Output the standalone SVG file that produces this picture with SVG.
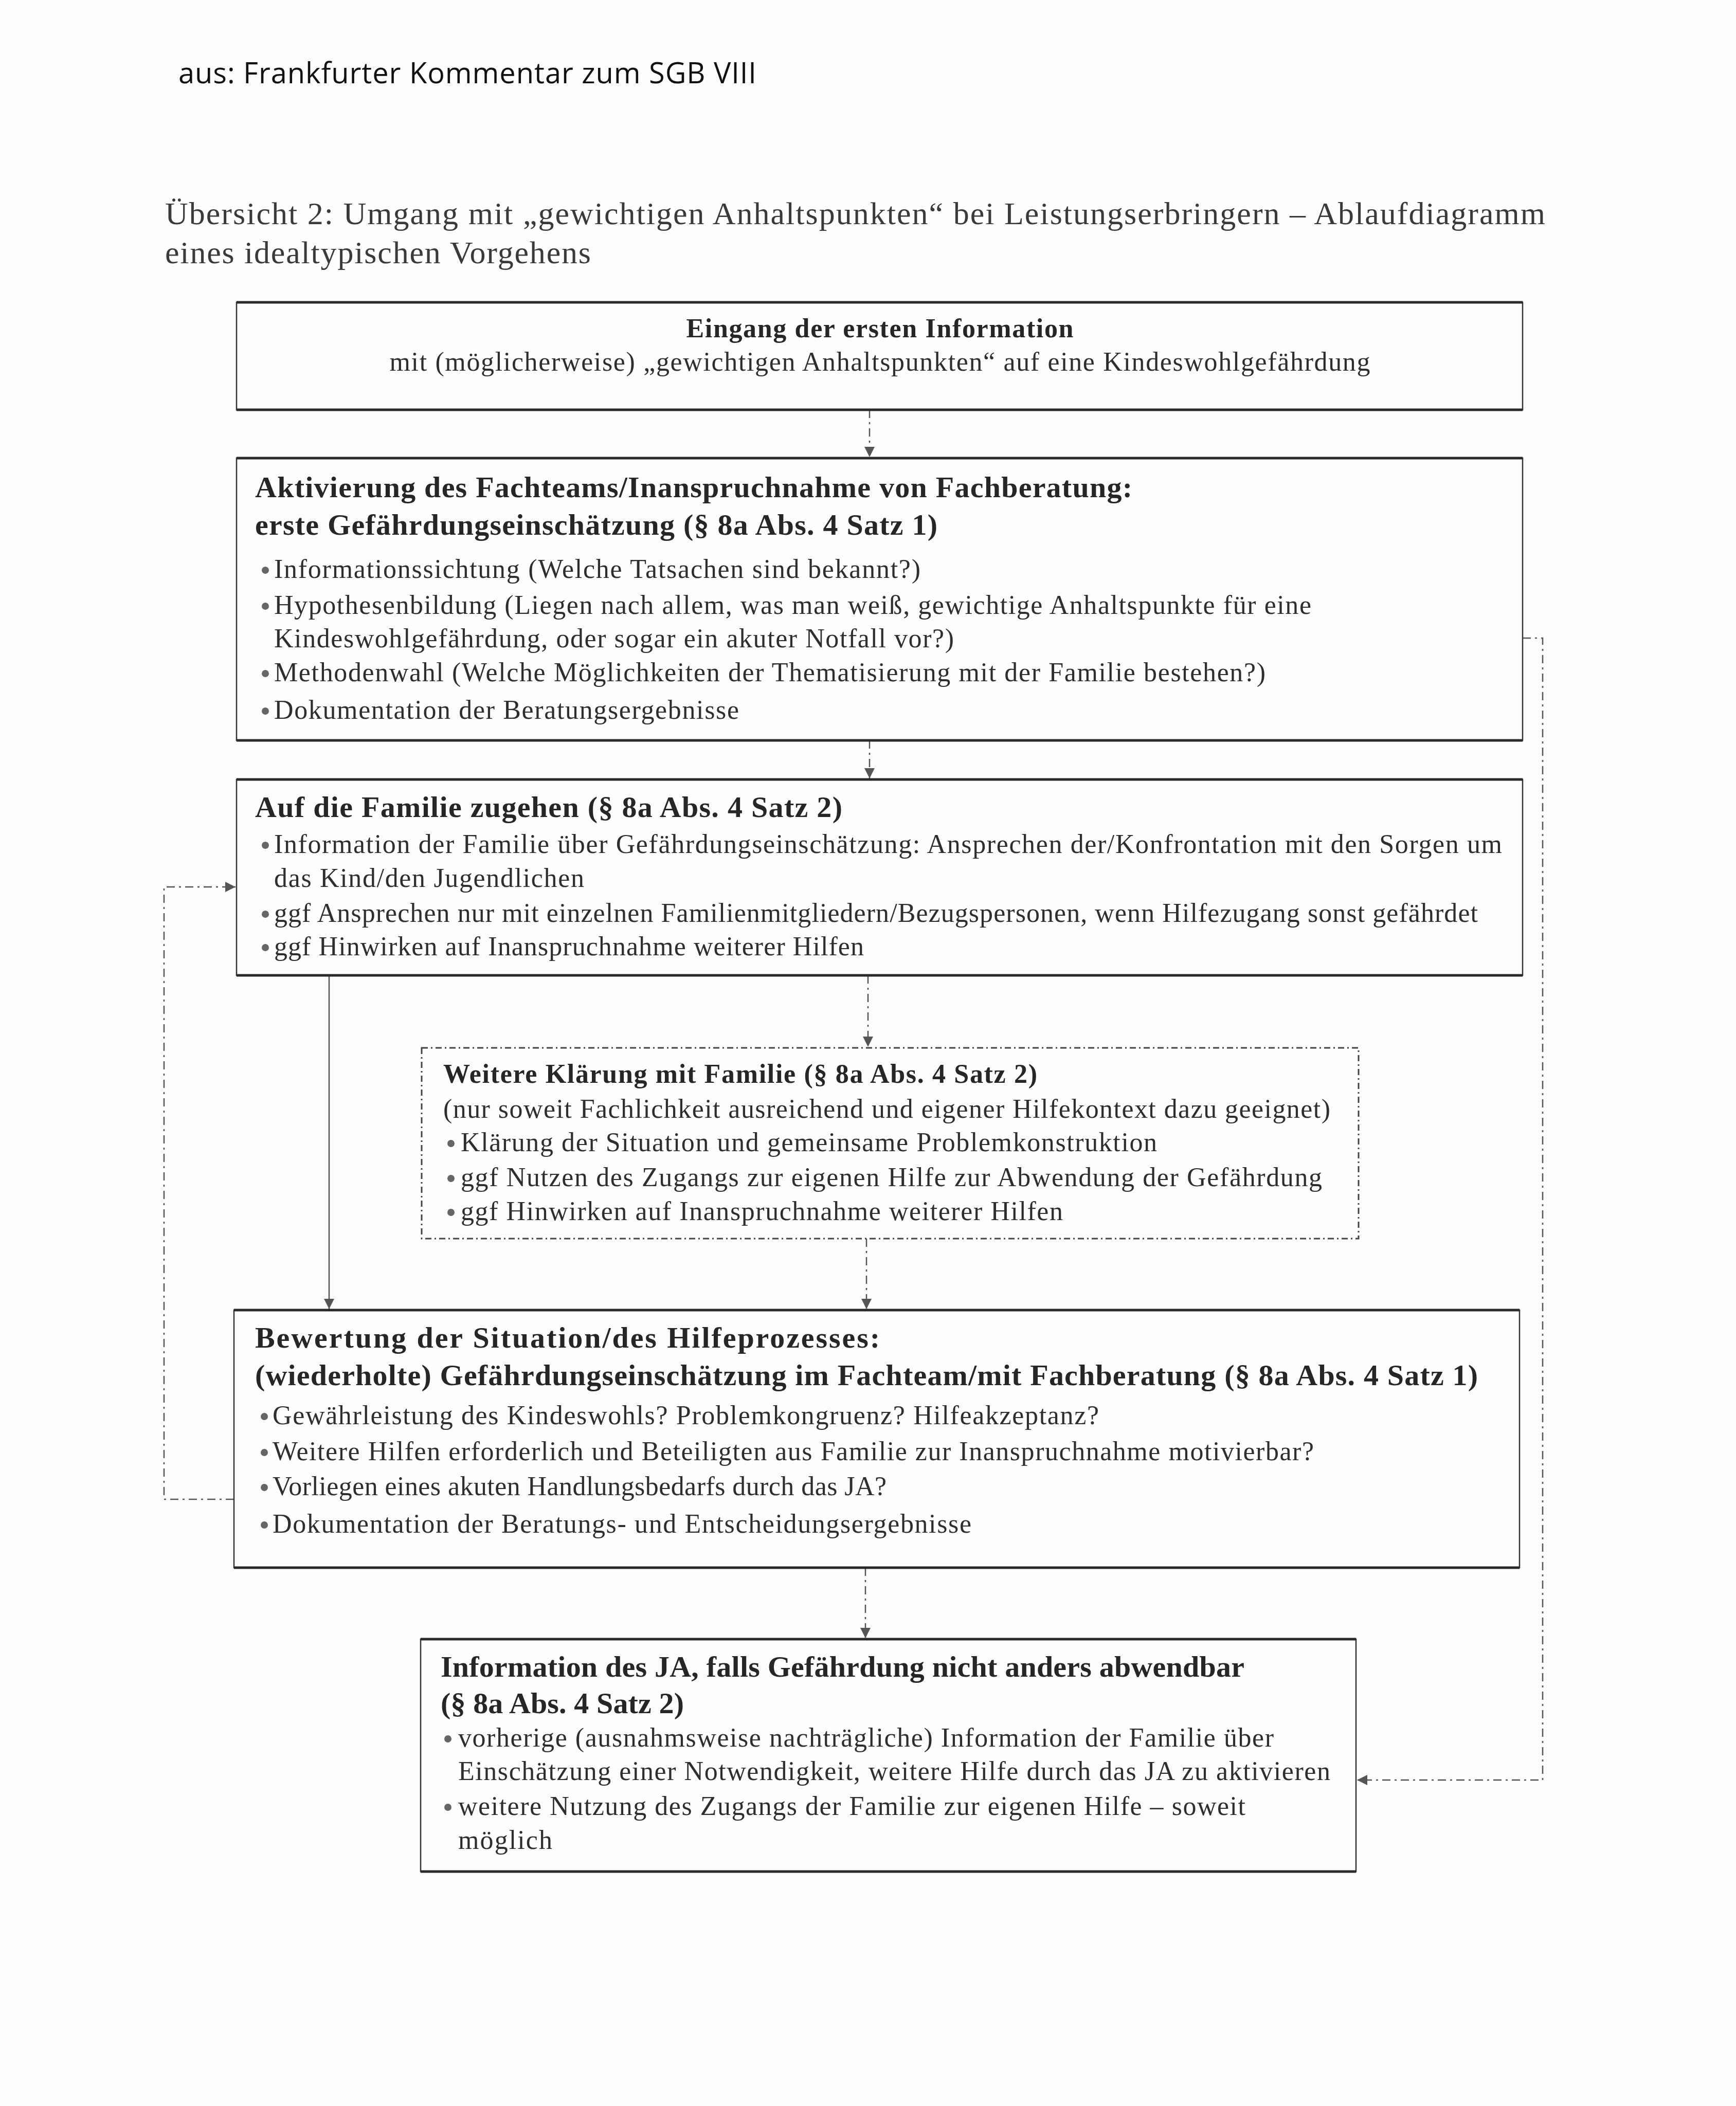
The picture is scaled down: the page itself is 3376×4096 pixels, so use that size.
<svg xmlns="http://www.w3.org/2000/svg" width="3376" height="4096" viewBox="0 0 3376 4096">
<defs>
<marker id="ah" viewBox="0 0 10 10" refX="10" refY="5" markerWidth="26" markerHeight="20" markerUnits="userSpaceOnUse" orient="auto"><path d="M0,0 L10,5 L0,10 z" fill="#555"/></marker>
</defs>
<style>
.bg{fill:#fdfdfd}
.box{fill:none;stroke:#333;stroke-width:2.5}
.edge{stroke:#2a2a2a;stroke-width:5}
.dbox{fill:none;stroke:#444;stroke-width:3;stroke-dasharray:12 6 3 6}
.t{font-family:"Liberation Serif",serif;font-weight:bold;font-size:58px;fill:#262626}
.t2{font-family:"Liberation Serif",serif;font-weight:bold;font-size:52px;fill:#262626}
.b{font-family:"Liberation Serif",serif;font-size:52px;fill:#2e2e2e}
.h{font-family:"Liberation Serif",serif;font-size:62px;fill:#3a3a3a}
.src{font-family:"Open Sans",sans-serif;font-size:56px;fill:#111}
.dot{fill:#666}
.con{fill:none;stroke:#555;stroke-width:2.5;stroke-dasharray:16 8 4 8}
.sol{fill:none;stroke:#555;stroke-width:2.5}
</style>
<rect class="bg" x="0" y="0" width="3376" height="4096"/>
<g id="header">
<text class="src" x="347" y="162" textLength="1124">aus: Frankfurter Kommentar zum SGB VIII</text>
<text class="h" x="321" y="436" textLength="2684">Übersicht 2: Umgang mit „gewichtigen Anhaltspunkten“ bei Leistungserbringern – Ablaufdiagramm</text>
<text class="h" x="321" y="512" textLength="828">eines idealtypischen Vorgehens</text>
</g>
<g id="connectors">
<path class="con" d="M1691,797 V889" marker-end="url(#ah)"/>
<path class="con" d="M1691,1440 V1514" marker-end="url(#ah)"/>
<path class="con" d="M1688,1897 V2036" marker-end="url(#ah)"/>
<path class="sol" d="M640,1897 V2546" marker-end="url(#ah)"/>
<path class="con" d="M1685,2409 V2546" marker-end="url(#ah)"/>
<path class="con" d="M1683,3049 V3186" marker-end="url(#ah)"/>
<path class="con" d="M455,2916 H319 V1725 H458" marker-end="url(#ah)"/>
<path class="con" d="M2961,1241 H3000 V3462 H2639" marker-end="url(#ah)"/>
</g>
<g id="n1">
<rect class="box" x="460" y="588" width="2501" height="209"/>
<path class="edge" d="M460,588 H2961 M460,797 H2961"/>
<text class="t2" x="1711" y="656" text-anchor="middle" textLength="753">Eingang der ersten Information</text>
<text class="b" x="1711" y="721" text-anchor="middle" font-size="50" textLength="1907">mit (möglicherweise) „gewichtigen Anhaltspunkten“ auf eine Kindeswohlgefährdung</text>
</g>
<g id="n2">
<rect class="box" x="460" y="891" width="2501" height="549"/>
<path class="edge" d="M460,891 H2961 M460,1440 H2961"/>
<text class="t" x="496" y="967" textLength="1706">Aktivierung des Fachteams/Inanspruchnahme von Fachberatung:</text>
<text class="t" x="496" y="1040" textLength="1327">erste Gefährdungseinschätzung (§ 8a Abs. 4 Satz 1)</text>
<circle class="dot" cx="516" cy="1109" r="7"/>
<text class="b" x="533" y="1124" textLength="1257">Informationssichtung (Welche Tatsachen sind bekannt?)</text>
<circle class="dot" cx="516" cy="1179" r="7"/>
<text class="b" x="533" y="1194" textLength="2017">Hypothesenbildung (Liegen nach allem, was man weiß, gewichtige Anhaltspunkte für eine</text>
<text class="b" x="533" y="1259" textLength="1322">Kindeswohlgefährdung, oder sogar ein akuter Notfall vor?)</text>
<circle class="dot" cx="516" cy="1310" r="7"/>
<text class="b" x="533" y="1325" textLength="1928">Methodenwahl (Welche Möglichkeiten der Thematisierung mit der Familie bestehen?)</text>
<circle class="dot" cx="516" cy="1383" r="7"/>
<text class="b" x="533" y="1398" textLength="904">Dokumentation der Beratungsergebnisse</text>
</g>
<g id="n3">
<rect class="box" x="460" y="1516" width="2501" height="381"/>
<path class="edge" d="M460,1516 H2961 M460,1897 H2961"/>
<text class="t" x="496" y="1589" textLength="1142">Auf die Familie zugehen (§ 8a Abs. 4 Satz 2)</text>
<circle class="dot" cx="516" cy="1644" r="7"/>
<text class="b" x="533" y="1659" textLength="2388">Information der Familie über Gefährdungseinschätzung: Ansprechen der/Konfrontation mit den Sorgen um</text>
<text class="b" x="533" y="1725" textLength="603">das Kind/den Jugendlichen</text>
<circle class="dot" cx="516" cy="1778" r="7"/>
<text class="b" x="533" y="1793" textLength="2341">ggf Ansprechen nur mit einzelnen Familienmitgliedern/Bezugspersonen, wenn Hilfezugang sonst gefährdet</text>
<circle class="dot" cx="516" cy="1843" r="7"/>
<text class="b" x="533" y="1858" textLength="1147">ggf Hinwirken auf Inanspruchnahme weiterer Hilfen</text>
</g>
<g id="n4">
<rect class="dbox" x="820" y="2038" width="1822" height="371"/>
<text class="t2" x="862" y="2106" textLength="1155">Weitere Klärung mit Familie (§ 8a Abs. 4 Satz 2)</text>
<text class="b" x="862" y="2174" font-size="51" textLength="1725">(nur soweit Fachlichkeit ausreichend und eigener Hilfekontext dazu geeignet)</text>
<circle class="dot" cx="877" cy="2224" r="7"/>
<text class="b" x="896" y="2239" font-size="51" textLength="1354">Klärung der Situation und gemeinsame Problemkonstruktion</text>
<circle class="dot" cx="877" cy="2292" r="7"/>
<text class="b" x="896" y="2307" font-size="51" textLength="1675">ggf Nutzen des Zugangs zur eigenen Hilfe zur Abwendung der Gefährdung</text>
<circle class="dot" cx="877" cy="2358" r="7"/>
<text class="b" x="896" y="2373" font-size="51" textLength="1171">ggf Hinwirken auf Inanspruchnahme weiterer Hilfen</text>
</g>
<g id="n5">
<rect class="box" x="455" y="2548" width="2500" height="501"/>
<path class="edge" d="M455,2548 H2955 M455,3049 H2955"/>
<text class="t" x="496" y="2621" textLength="1215">Bewertung der Situation/des Hilfeprozesses:</text>
<text class="t" x="496" y="2694" textLength="2378">(wiederholte) Gefährdungseinschätzung im Fachteam/mit Fachberatung (§ 8a Abs. 4 Satz 1)</text>
<circle class="dot" cx="514" cy="2755" r="7"/>
<text class="b" x="530" y="2770" textLength="1607">Gewährleistung des Kindeswohls? Problemkongruenz? Hilfeakzeptanz?</text>
<circle class="dot" cx="514" cy="2825" r="7"/>
<text class="b" x="530" y="2840" textLength="2025">Weitere Hilfen erforderlich und Beteiligten aus Familie zur Inanspruchnahme motivierbar?</text>
<circle class="dot" cx="514" cy="2893" r="7"/>
<text class="b" x="530" y="2908" textLength="1194">Vorliegen eines akuten Handlungsbedarfs durch das JA?</text>
<circle class="dot" cx="514" cy="2966" r="7"/>
<text class="b" x="530" y="2981" textLength="1359">Dokumentation der Beratungs- und Entscheidungsergebnisse</text>
</g>
<g id="n6">
<rect class="box" x="818" y="3188" width="1819" height="452"/>
<path class="edge" d="M818,3188 H2637 M818,3640 H2637"/>
<text class="t" x="857" y="3261" textLength="1563">Information des JA, falls Gefährdung nicht anders abwendbar</text>
<text class="t" x="857" y="3332" textLength="473">(§ 8a Abs. 4 Satz 2)</text>
<circle class="dot" cx="871" cy="3382" r="7"/>
<text class="b" x="891" y="3397" textLength="1586">vorherige (ausnahmsweise nachträgliche) Information der Familie über</text>
<text class="b" x="891" y="3462" textLength="1696">Einschätzung einer Notwendigkeit, weitere Hilfe durch das JA zu aktivieren</text>
<circle class="dot" cx="871" cy="3515" r="7"/>
<text class="b" x="891" y="3530" textLength="1531">weitere Nutzung des Zugangs der Familie zur eigenen Hilfe – soweit</text>
<text class="b" x="891" y="3596" textLength="183">möglich</text>
</g>
</svg>
